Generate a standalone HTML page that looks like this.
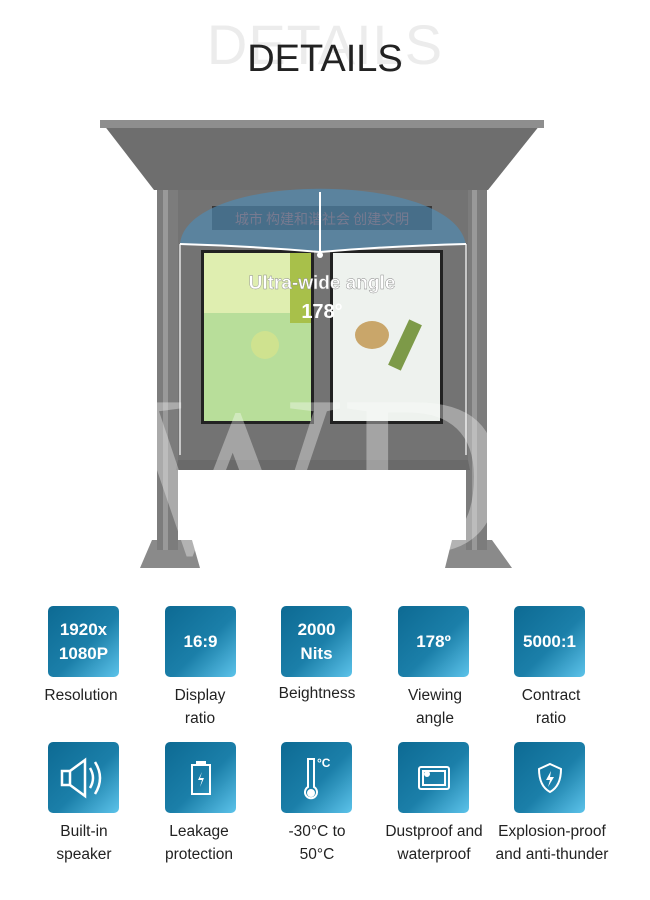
<!DOCTYPE html>
<html><head><meta charset="utf-8"><style>
body{margin:0;width:650px;height:900px;background:#fff;font-family:"Liberation Sans","Noto Sans CJK SC",sans-serif;position:relative;overflow:hidden}
.abs{position:absolute}
.tile{position:absolute;width:71px;height:71px;border-radius:5px;background:linear-gradient(135deg,#0d6a93 0%,#1b7fa9 55%,#5cc3ea 100%);color:#fff;font-weight:bold;font-size:17px;display:flex;align-items:center;justify-content:center;text-align:center;line-height:24px}
.lbl{position:absolute;width:130px;text-align:center;font-size:15.5px;color:#222;line-height:23px}
</style></head><body>
<div class="abs" style="left:0;width:650px;top:12px;text-align:center;font-size:56px;color:#ececec;letter-spacing:1px">DETAILS</div>
<div class="abs" style="left:0;width:650px;top:38px;text-align:center;font-size:38px;color:#222">DETAILS</div>

<svg class="abs" style="left:0;top:0" width="650" height="600">
 <polygon points="140,568 152,540 192,540 200,568" fill="#8a8a8a"/>
 <polygon points="445,568 452,540 492,540 512,568" fill="#8a8a8a"/>
 <rect x="157" y="160" width="21" height="390" fill="#7c7c7c"/>
 <rect x="466" y="160" width="21" height="390" fill="#7c7c7c"/>
 <rect x="163" y="160" width="5" height="390" fill="#999"/>
 <rect x="472" y="160" width="5" height="390" fill="#999"/>
 <rect x="178" y="188" width="290" height="272" fill="#737373"/>
 <polygon points="178,460 468,460 470,470 176,470" fill="#6a6a6a"/>
 <polygon points="100,120 544,120 488,190 154,190" fill="#6e6e6e"/>
 <rect x="100" y="120" width="444" height="8" fill="#8e8e8e"/>
 <rect x="212" y="206" width="220" height="24" fill="#3a3838"/>
 <text x="322" y="224" text-anchor="middle" font-size="14" fill="#c25a4a" font-family="Noto Sans CJK SC,sans-serif">城市 构建和谐社会 创建文明</text>
 <rect x="201" y="250" width="113" height="174" fill="#222"/>
 <rect x="204" y="253" width="107" height="168" fill="#b8de9a"/>
 <rect x="204" y="253" width="107" height="60" fill="#dfeeb0"/>
 <rect x="290" y="253" width="21" height="70" fill="#a8c04a"/>
 <circle cx="265" cy="345" r="14" fill="#cfe28f"/>
 <rect x="330" y="250" width="113" height="174" fill="#222"/>
 <rect x="333" y="253" width="107" height="168" fill="#eef2ee"/>
 <ellipse cx="372" cy="335" rx="17" ry="14" fill="#c9a66a"/>
 <rect x="398" y="320" width="14" height="50" fill="#7d9a48" transform="rotate(25 405 345)"/>
 <path d="M180,245 C185,170 455,170 466,245 Q390,246 320,252 Q250,246 180,245 Z" fill="#4f8cb5" opacity="0.65"/>
 <path d="M180,244 Q250,246 320,252 Q390,246 466,244" stroke="#fff" stroke-width="2" fill="none"/>
 <line x1="320" y1="192" x2="320" y2="253" stroke="#fff" stroke-width="2"/>
 <line x1="180" y1="244" x2="180" y2="455" stroke="#fff" stroke-width="1.5" opacity="0.8"/>
 <line x1="466" y1="244" x2="466" y2="455" stroke="#fff" stroke-width="1.5" opacity="0.8"/>
 <circle cx="320" cy="255" r="3" fill="#fff"/>
 <text x="322" y="289" text-anchor="middle" font-size="19" font-weight="bold" fill="#fff" stroke="#888" stroke-width="0.4">Ultra-wide angle</text>
 <text x="322" y="318" text-anchor="middle" font-size="20" font-weight="bold" fill="#fff">178°</text>
 <text x="315" y="553" text-anchor="middle" font-size="230" font-family="Liberation Serif,serif" fill="#fff" opacity="0.35">WD</text>
</svg>

<div class="tile" style="left:48px;top:606px">1920x<br>1080P</div>
<div class="tile" style="left:165px;top:606px">16:9</div>
<div class="tile" style="left:281px;top:606px">2000<br>Nits</div>
<div class="tile" style="left:398px;top:606px">178º</div>
<div class="tile" style="left:514px;top:606px">5000:1</div>
<div class="lbl" style="left:16px;top:684px">Resolution</div>
<div class="lbl" style="left:135px;top:684px">Display<br>ratio</div>
<div class="lbl" style="left:252px;top:682px">Beightness</div>
<div class="lbl" style="left:370px;top:684px">Viewing<br>angle</div>
<div class="lbl" style="left:486px;top:684px">Contract<br>ratio</div>

<div class="tile" style="left:48px;top:742px"><svg width="50" height="44" viewBox="0 0 50 44" fill="none" stroke="#fff" stroke-width="2.5"><rect x="3" y="15" width="8" height="14"/><path d="M11,15 L26,4 L26,40 L11,29"/><path d="M31,12 Q37,22 31,32"/><path d="M36,6 Q46,22 36,38"/></svg></div>
<div class="tile" style="left:165px;top:742px"><svg width="24" height="36" viewBox="0 0 24 36" fill="none" stroke="#fff" stroke-width="2"><rect x="8" y="2" width="8" height="3" fill="#fff"/><rect x="3" y="5" width="18" height="29"/><path d="M13,12 L9,20 L13,20 L11,27 L15,18 L11,18 Z" fill="#fff" stroke="none"/></svg></div>
<div class="tile" style="left:281px;top:742px"><svg width="30" height="46" viewBox="0 0 30 46" fill="none" stroke="#fff" stroke-width="2"><path d="M6,4 L12,4 L12,32 A6,6 0 1 1 6,32 Z"/><circle cx="9" cy="38" r="3" fill="#fff"/><text x="15" y="12" font-size="12" fill="#fff" stroke="none" font-family="Liberation Sans">°C</text></svg></div>
<div class="tile" style="left:398px;top:742px"><svg width="34" height="26" viewBox="0 0 34 26" fill="none" stroke="#fff" stroke-width="2"><rect x="2" y="2" width="30" height="22" rx="2"/><rect x="6" y="6" width="22" height="14"/><circle cx="10" cy="9" r="2" fill="#fff"/></svg></div>
<div class="tile" style="left:514px;top:742px"><svg width="26" height="32" viewBox="0 0 26 32" fill="none" stroke="#fff" stroke-width="2"><path d="M13,2 L24,7 Q24,24 13,30 Q2,24 2,7 Z"/><path d="M14,9 L9,18 L13,18 L11,25 L17,15 L13,15 Z" fill="#fff" stroke="none"/></svg></div>
<div class="lbl" style="left:19px;top:820px">Built-in<br>speaker</div>
<div class="lbl" style="left:134px;top:820px">Leakage<br>protection</div>
<div class="lbl" style="left:252px;top:820px">-30°C to<br>50°C</div>
<div class="lbl" style="left:369px;top:820px">Dustproof and<br>waterproof</div>
<div class="lbl" style="left:486px;top:820px;width:132px">Explosion-proof<br>and anti-thunder</div>
</body></html>
